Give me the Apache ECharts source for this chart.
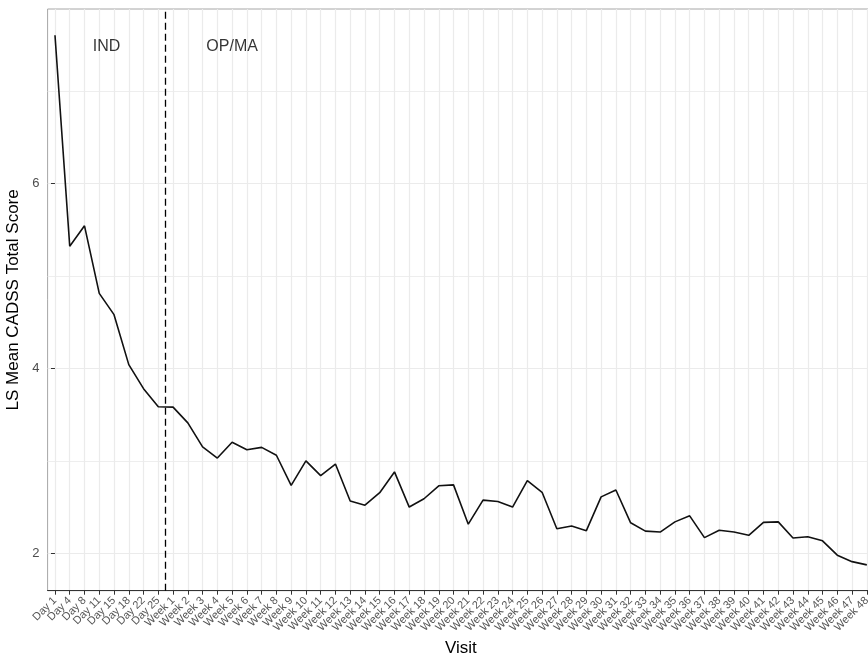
<!DOCTYPE html>
<html>
<head>
<meta charset="utf-8">
<script src="https://cdn.jsdelivr.net/npm/echarts@6/dist/echarts.min.js"></script>
<style>
  html, body { margin: 0; padding: 0; background: #ffffff; }
  #chart { width: 868px; height: 655px; }
</style>
</head>
<body>
<div id="chart"></div>
<script>
// Visit labels: induction days, then weekly optimization/maintenance visits
const dayVisits = ['Day 1', 'Day 4', 'Day 8', 'Day 11', 'Day 15', 'Day 18', 'Day 22', 'Day 25'];
const weekVisits = [
  'Week 1', 'Week 2', 'Week 3', 'Week 4', 'Week 5', 'Week 6', 'Week 7', 'Week 8',
  'Week 9', 'Week 10', 'Week 11', 'Week 12', 'Week 13', 'Week 14', 'Week 15', 'Week 16',
  'Week 17', 'Week 18', 'Week 19', 'Week 20', 'Week 21', 'Week 22', 'Week 23', 'Week 24',
  'Week 25', 'Week 26', 'Week 27', 'Week 28', 'Week 29', 'Week 30', 'Week 31', 'Week 32',
  'Week 33', 'Week 34', 'Week 35', 'Week 36', 'Week 37', 'Week 38', 'Week 39', 'Week 40',
  'Week 41', 'Week 42', 'Week 43', 'Week 44', 'Week 45', 'Week 46', 'Week 47', 'Week 48'
];
const visits = dayVisits.concat(weekVisits);

// LS mean CADSS total score at each visit
const lsMean = [
  7.60, 5.32, 5.54, 4.81, 4.58, 4.04, 3.78, 3.585,
  3.58, 3.41, 3.15, 3.03, 3.20, 3.12, 3.145, 3.06,
  2.735, 3.00, 2.84, 2.965, 2.565, 2.52, 2.655, 2.88,
  2.50, 2.59, 2.73, 2.74, 2.315, 2.575, 2.56, 2.50,
  2.785, 2.66, 2.265, 2.295, 2.245, 2.61, 2.685, 2.33,
  2.24, 2.23, 2.34, 2.405, 2.17, 2.25, 2.23, 2.195,
  2.335, 2.34, 2.165, 2.18, 2.135, 1.98, 1.91, 1.875
];

// Y axis range and gridline positions
const yMin = 1.596;
const yMax = 7.884;
const yMajorTicks = [2, 4, 6];
const yMinorTicks = [3, 5, 7];

// Phase annotations and the boundary between induction and OP/MA
const phaseLabels = ['IND', 'OP/MA'];
const phaseLabelX = [3.5, 12];
const phaseLabelY = 7.5;
const phaseBoundary = 7.5;

const chart = echarts.init(document.getElementById('chart'), null, { renderer: 'canvas' });

const FONT = 'Liberation Sans, Arial, sans-serif';
const GRID = '#ebebeb';

chart.setOption({
  animation: false,
  backgroundColor: '#ffffff',
  grid: {
    left: 47.6,
    top: 9,
    width: 826.6,
    height: 581.7,
    show: true,
    borderColor: '#a6a6a6',
    borderWidth: 1,
    backgroundColor: 'transparent',
    containLabel: false,
    outerBoundsMode: 'none'
  },
  xAxis: [
    {
      type: 'category',
      data: visits,
      boundaryGap: true,
      name: 'Visit',
      nameLocation: 'middle',
      nameGap: 45,
      nameTextStyle: { fontFamily: FONT, fontSize: 17, color: '#000000' },
      axisLine: { show: true, lineStyle: { color: '#333333', width: 1.2 } },
      axisTick: { show: true, alignWithLabel: true, interval: 0, length: 4, lineStyle: { color: '#333333', width: 1 } },
      axisLabel: {
        interval: 0, rotate: 45, margin: 8,
        fontFamily: FONT, fontSize: 11, color: '#555555'
      },
      splitLine: { show: true, alignWithLabel: true, interval: 0, lineStyle: { color: GRID, width: 1.2 } }
    },
    {
      // hidden numeric companion axis spanning the same bands, used for annotations
      type: 'value',
      min: -0.5,
      max: visits.length - 0.5,
      show: false,
      splitLine: { show: false }
    }
  ],
  yAxis: [
    {
      type: 'value',
      min: yMin,
      max: yMax,
      name: 'LS Mean CADSS Total Score',
      nameLocation: 'middle',
      nameGap: 19,
      nameTextStyle: { fontFamily: FONT, fontSize: 17, color: '#000000' },
      axisLine: { show: false },
      axisTick: { show: true, customValues: yMajorTicks, length: 4, lineStyle: { color: '#333333', width: 1 } },
      axisLabel: {
        customValues: yMajorTicks, margin: 8,
        fontFamily: FONT, fontSize: 13, color: '#4d4d4d'
      },
      splitLine: { show: true, lineStyle: { color: GRID, width: 1.2 } }
    },
    {
      // minor horizontal gridlines only
      type: 'value',
      min: yMin,
      max: yMax,
      position: 'left',
      axisLine: { show: false },
      axisTick: { show: false, customValues: yMinorTicks },
      axisLabel: { show: false, customValues: yMinorTicks },
      splitLine: { show: true, lineStyle: { color: '#eeeeee', width: 1 } }
    }
  ],
  series: [
    {
      type: 'line',
      data: lsMean,
      xAxisIndex: 0,
      yAxisIndex: 0,
      symbol: 'none',
      lineStyle: { color: '#111111', width: 1.6 },
      z: 5
    },
    {
      type: 'scatter',
      xAxisIndex: 1,
      yAxisIndex: 0,
      symbolSize: 0,
      data: phaseLabels.map((t, i) => ({ value: [phaseLabelX[i], phaseLabelY], name: t })),
      label: {
        show: true, position: 'inside', offset: [0, 2], formatter: p => p.name,
        fontFamily: FONT, fontSize: 16, color: '#000000'
      },
      markLine: {
        silent: true,
        symbol: 'none',
        label: { show: false },
        lineStyle: { color: '#000000', type: [7, 4], width: 1.3 },
        data: [{ xAxis: phaseBoundary }]
      },
      z: 4
    }
  ]
});
</script>
</body>
</html>
